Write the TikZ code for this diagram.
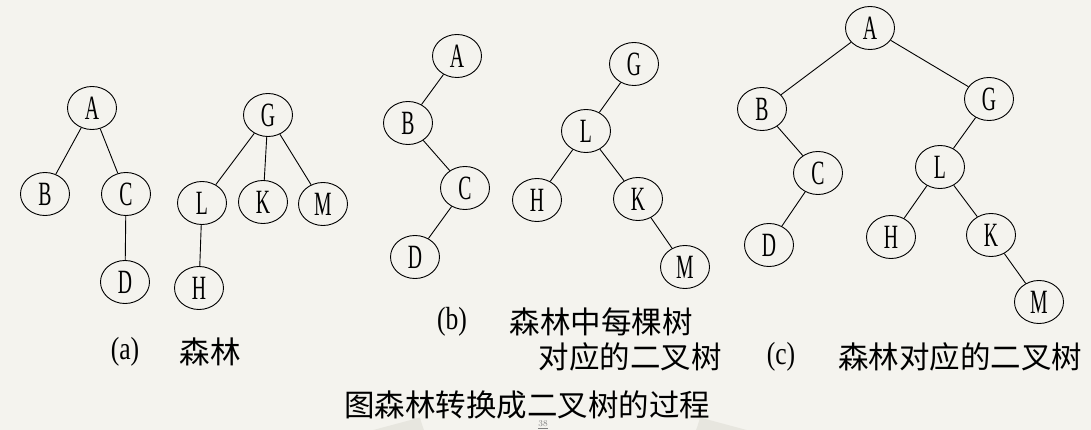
\documentclass[tikz,border=0pt]{standalone}
\usepackage{fontspec}
\usetikzlibrary{shapes.geometric}
\newfontfamily\cjk{Noto Sans CJK SC}
\newfontfamily\narrowserif[FakeStretch=0.58]{Liberation Serif}
\newfontfamily\parserif[FakeStretch=0.8]{Liberation Serif}
\definecolor{bgcol}{HTML}{F4F3EE}
\definecolor{fancol}{HTML}{E7E6DF}
\begin{document}
\begin{tikzpicture}[x=1pt,y=-1pt,
  tn/.style={ellipse,draw=black,line width=0.9pt,minimum width=49pt,minimum height=43pt,inner sep=0pt,
    font=\narrowserif\fontsize{34}{35}\selectfont},
  edge/.style={draw=black,line width=0.9pt},
  captxt/.style={font=\cjk\fontsize{30.5}{32}\selectfont,inner sep=0pt,anchor=center},
  partxt/.style={font=\parserif\fontsize{32}{34}\selectfont,inner sep=0pt,anchor=center}]
\useasboundingbox (0,0) rectangle (1091,430);
\fill[bgcol] (0,0) rectangle (1091,430);
% faint fan in the background
\begin{scope}
\clip (0,0) rectangle (1091,430);
\fill[fancol] (560,380) ++(165:145) arc[start angle=165,end angle=15,radius=145]
  -- ++(15:435) arc[start angle=15,end angle=165,radius=580] -- cycle;
\end{scope}
% (a) forest
\node[tn] (aA) at (92,108) {A};
\node[tn] (aB) at (45,194) {B};
\node[tn] (aC) at (126,194) {C};
\node[tn] (aD) at (125,282) {D};
\node[tn] (aG) at (268,115) {G};
\node[tn] (aL) at (202,203) {L};
\node[tn] (aK) at (263,202) {K};
\node[tn] (aM) at (323,204) {M};
\node[tn] (aH) at (199,288) {H};
\draw[edge] (aA) -- (aB);
\draw[edge] (aA) -- (aC);
\draw[edge] (aC) -- (aD);
\draw[edge] (aG) -- (aL);
\draw[edge] (aG) -- (aK);
\draw[edge] (aG) -- (aM);
\draw[edge] (aL) -- (aH);
% (b) binary trees of each tree
\node[tn] (bA) at (457,56) {A};
\node[tn] (bB) at (408,123) {B};
\node[tn] (bC) at (465,188) {C};
\node[tn] (bD) at (415,257) {D};
\node[tn] (bG) at (634,64) {G};
\node[tn] (bL) at (586,131) {L};
\node[tn] (bH) at (537,200) {H};
\node[tn] (bK) at (638,199) {K};
\node[tn] (bM) at (685,267) {M};
\draw[edge] (bA) -- (bB);
\draw[edge] (bB) -- (bC);
\draw[edge] (bC) -- (bD);
\draw[edge] (bG) -- (bL);
\draw[edge] (bL) -- (bH);
\draw[edge] (bL) -- (bK);
\draw[edge] (bK) -- (bM);
% (c) binary tree of forest
\node[tn] (cA) at (870,28) {A};
\node[tn] (cB) at (762,109) {B};
\node[tn] (cG) at (989,99) {G};
\node[tn] (cC) at (818,173) {C};
\node[tn] (cL) at (940,167) {L};
\node[tn] (cD) at (769,245) {D};
\node[tn] (cH) at (891,237) {H};
\node[tn] (cK) at (991,235) {K};
\node[tn] (cM) at (1039,302) {M};
\draw[edge] (cA) -- (cB);
\draw[edge] (cA) -- (cG);
\draw[edge] (cB) -- (cC);
\draw[edge] (cC) -- (cD);
\draw[edge] (cG) -- (cL);
\draw[edge] (cL) -- (cH);
\draw[edge] (cL) -- (cK);
\draw[edge] (cK) -- (cM);
% captions
\node[partxt] (la) at (125,352) {(a)};
\node[captxt] (lat) at (210,352) {森林};
\node[partxt] (lb) at (452,322) {(b)};
\node[captxt] (lbt) at (601,322) {森林中每棵树};
\node[captxt] (lbt2) at (630,357) {对应的二叉树};
\node[partxt] (lc) at (781,357) {(c)};
\node[captxt] (lct) at (960,357) {森林对应的二叉树};
\node[captxt] (title) at (527,405) {图森林转换成二叉树的过程};
\node[font=\fontsize{9}{10}\selectfont,text=gray,inner sep=0pt] (pg) at (543,425) {\underline{38}};
\end{tikzpicture}
\end{document}
